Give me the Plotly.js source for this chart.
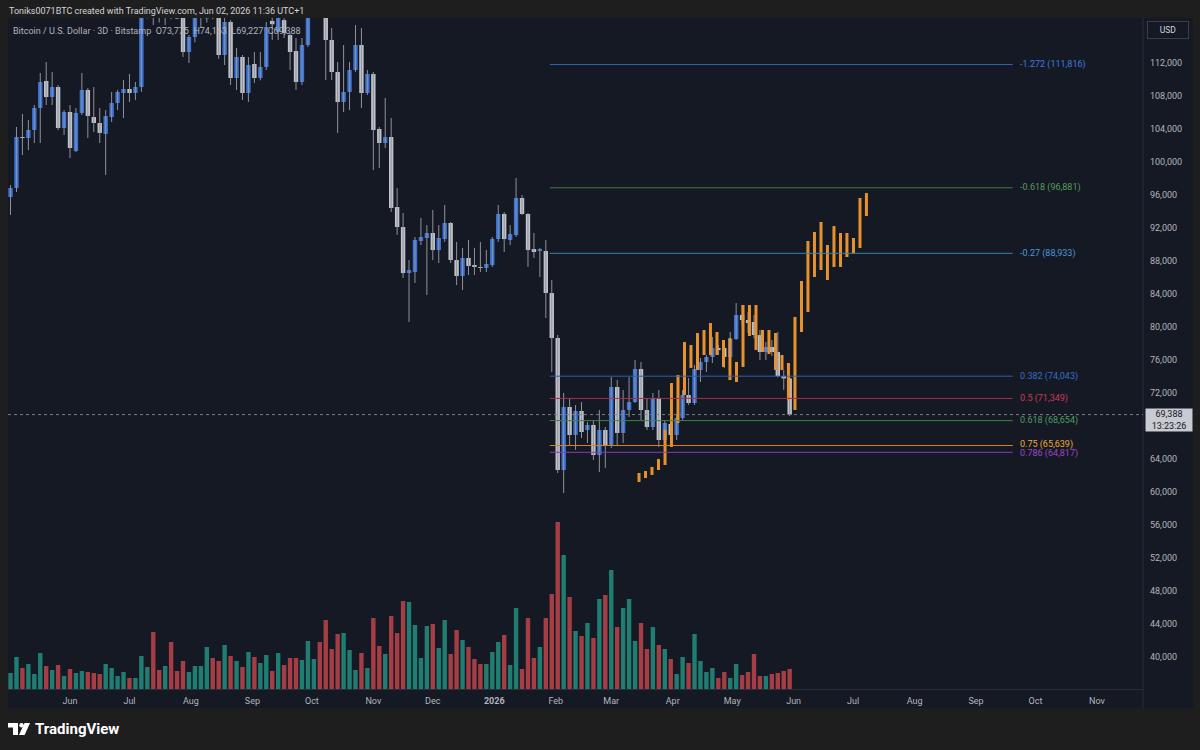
<!DOCTYPE html>
<html><head><meta charset="utf-8">
<script src="https://cdn.plot.ly/plotly-3.0.1.min.js"></script>
<style>html,body{margin:0;padding:0;background:#1e1e1e;}#chart{width:1200px;height:750px;}</style>
</head><body><div id="chart"></div>
<script>
// ---------- DATA ----------
const candleStart = '2025-05-02';   // first 3D candle
const candleStepDays = 3;
const candleOpen = [95760,96850,103030,102910,103880,106550,109820,107880,109090,104120,
106060,101330,105940,108730,105450,104730,103400,105450,107150,108360,
108850,108360,109090,117800,119800,117800,117500,118600,117700,118000,
113330,115150,118300,117400,118200,117500,112970,116970,110180,112730,
108360,111880,110180,111520,117100,115760,117200,115390,113450,109700,
114180,120000,123000,121000,114790,110910,107270,108490,111150,114180,
108360,110670,104000,102300,103030,94550,92120,86540,86660,90430,
90790,91400,89330,90670,92610,88120,86180,88370,87520,87280,
87160,87520,90670,93700,90550,91150,95640,93700,89450,89210,
89210,84120,78670,62670,70310,66910,69820,67520,68130,64490,
67520,65700,72730,67160,69940,70910,74910,69940,67880,71400,
66310,68250,66910,68970,71760,70790,74790,75760,76370,77460,
77460,76370,78550,81460,80850,80610,79030,76970,77580,76970,
74060,73770];
const candleHigh = [97200,104240,105820,105090,106910,110790,112120,110910,109330,106300,
106910,106550,110790,108970,109090,106550,106300,108490,108730,109940,
110670,109700,119000,123200,120500,119500,119700,119200,118600,118500,
115390,119300,124000,119000,118900,117800,117500,117200,113820,112970,
112730,113330,113330,116970,118000,118000,117800,115640,115030,115030,
123500,126000,124500,122000,116240,112120,114180,112120,116600,116240,
111150,110910,104240,107760,105330,96850,93820,88120,90910,93220,
92360,94180,92360,94790,92730,90310,89580,90550,89580,90310,
89330,90910,94790,93940,92360,98060,96000,93820,91400,89570,
90550,85700,79030,72000,71400,70550,70910,68490,68730,69940,
67880,73940,73580,72370,73940,76000,75760,71400,72000,72370,
68730,69090,69340,72370,73820,75400,76240,76610,78790,77820,
78180,79400,82910,82670,81820,81460,79640,78180,78420,79400,
74790,74163];
const candleLow = [93580,96370,100850,101450,102300,102300,106910,106910,103880,103270,
100490,101210,105700,102910,103640,102300,98430,104850,106300,105330,
107270,107510,108490,117400,116600,116900,116600,117300,117300,112730,
112000,114500,116240,116900,117300,112500,111760,109330,108730,107510,
107270,109580,109900,111150,114790,114790,115030,111150,108730,109330,
113940,119500,118000,109940,109940,103520,106060,106300,110910,106550,
108120,99030,99270,101700,93940,91160,85940,80610,85340,89940,
83880,88120,87760,90310,87760,85090,84490,86310,86310,86670,
86670,87280,90310,89090,89940,90910,93580,87280,88370,86060,
81090,74550,62310,59880,65700,65100,66550,65940,63880,62430,
62920,65340,65700,65940,69090,70790,68730,67520,67520,65460,
65100,65700,66310,68730,70550,70550,73340,74550,75640,76610,
75040,76240,78430,80240,79270,78670,76000,76000,76500,73900,
72370,69227];
const candleClose = [96850,103030,102910,103880,106550,109700,107880,109090,104120,106060,
101700,105940,108730,105580,104730,103520,105580,107150,108490,108850,
108360,109090,117800,119800,117800,117500,118600,117700,117400,113330,
115150,118300,118800,118200,117500,112970,116970,110180,112730,108360,
111760,110180,111520,116360,116700,117450,115640,113330,109700,114180,
120000,123000,121500,114790,110910,107270,108490,111150,114180,108360,
110670,103880,102300,103030,94430,92120,86540,86910,90550,90910,
91400,89330,90790,92610,88120,86180,88370,87400,87280,87160,
87640,90670,93700,90670,91270,95640,93700,89330,89090,89450,
84120,78670,62670,70310,66910,69820,67280,68130,64490,67520,
65700,72730,67160,69940,70910,74910,69940,67880,71400,66310,
68370,66910,68970,71760,70790,74910,75760,76370,77460,77220,
76370,78550,81460,80850,80490,79030,76970,77580,76970,74060,
73770,69388];
const volume = [16,32,21,25,15,36,23,19,24,13,20,16,18,17,16,15,25,21,13,17,
11,11,33,22,57,19,23,47,18,28,17,23,23,42,31,28,44,33,28,22,
37,32,26,34,18,36,24,31,31,29,48,30,47,69,40,55,56,39,19,36,
21,71,43,35,73,56,88,87,64,31,63,65,41,69,35,59,49,42,30,25,
25,37,47,54,24,81,20,71,31,42,71,95,167,134,92,58,53,66,51,90,
94,119,62,81,90,48,66,40,62,44,40,30,15,32,26,55,28,17,21,11,
17,11,25,14,17,35,13,13,15,16,18,20];

// orange projected bars pattern (high / low)
const projDates = ['2026-03-15 00:00','2026-03-18 07:00','2026-03-21 13:00','2026-03-24 20:00',
'2026-03-28 03:00','2026-03-31 09:00','2026-04-03 16:00','2026-04-06 23:00','2026-04-10 05:00',
'2026-04-13 12:00','2026-04-16 19:00','2026-04-20 01:00','2026-04-23 08:00','2026-04-26 15:00',
'2026-04-29 21:00','2026-05-03 04:00','2026-05-06 11:00','2026-05-09 17:00','2026-05-13 00:00',
'2026-05-16 07:00','2026-05-19 13:00','2026-05-22 20:00','2026-05-26 03:00','2026-05-29 09:00',
'2026-06-01 16:00','2026-06-04 23:00','2026-06-08 05:00','2026-06-11 12:00','2026-06-14 19:00',
'2026-06-18 01:00','2026-06-21 08:00','2026-06-24 15:00','2026-06-27 21:00','2026-07-01 04:00',
'2026-07-04 11:00','2026-07-07 17:00'];
const projHigh = [62310,62550,63040,64000,67520,73210,74190,78180,77820,79270,79640,80490,
79400,78430,78670,75760,82670,82670,82670,79640,79640,79270,76610,75640,81220,85580,
90430,91520,92730,89940,92240,91400,91400,90790,95640,96240];
const projLow = [61220,61700,62070,62670,63280,65460,68370,71760,75040,74790,76610,76610,
76610,75160,73580,73340,75160,78910,77220,76970,76730,74790,74790,71160,69940,79400,
81820,86060,86910,85700,87280,87280,88490,88970,89580,93460];

// Fibonacci levels
const fibLevels = ['-1.272','-0.618','-0.27','0.382','0.5','0.618','0.75','0.786'];
const fibPrices = [111816,96881,88933,74043,71349,68654,65639,64817];
const fibStart = '2026-01-29';
const fibEnd = '2026-09-19 12:00';
const fibLabelAt = '2026-09-22';

const lastPrice = 69388;
const lastTimer = '13:23:26';
const legendText = 'Bitcoin / U.S. Dollar · 3D · Bitstamp  O73,775  H74,163  L69,227  C69,388';
const headerText = 'Toniks0071BTC created with TradingView.com, Jun 02, 2026 11:36 UTC+1';

const monthTicks = ['2025-06-01','2025-07-01','2025-08-01','2025-09-01','2025-10-01','2025-11-01',
'2025-12-01','2026-01-01','2026-02-01','2026-03-01','2026-04-01','2026-05-01','2026-06-01',
'2026-07-01','2026-08-01','2026-09-01','2026-10-01','2026-11-01'];
const monthLabels = ['Jun','Jul','Aug','Sep','Oct','Nov','Dec','<b>2026</b>','Feb','Mar','Apr','May',
'Jun','Jul','Aug','Sep','Oct','Nov'];
const priceTicks = [40000,44000,48000,52000,56000,60000,64000,72000,76000,80000,84000,88000,
92000,96000,100000,104000,108000,112000];

// ---------- STYLE ----------
const fibLineColors = ['#2f64b8','#3f7a45','#3a84b0','#2f5fae','#a8304a','#3f8050','#d9841c','#8a3bb5'];
const fibTextColors = ['#3b7be0','#5a9a5e','#4a98d8','#3b6cc4','#cf3a57','#4f9c62','#f2a935','#9a47c8'];
const fibLabelShift = [0,0,0,0,0,0,1.5,-1.5];
const UP = '#3a74d9', DOWN = '#bfc2c9', WICK = '#8f929b';
const VUP = '#1f7d72', VDOWN = '#a53d44';
const ORANGE = '#e8922e';
const TXT = '#b2b5be';
const FONT = 'Roboto, "Open Sans", sans-serif';

// layout pixel geometry
const W = 1200, H = 750, L = 8, R = 1143, T = 18, B = 689;
const px = x => (x - L) / (R - L);
const py = y => (B - y) / (B - T);

function addDays(iso, d) {
  const p = iso.split('-').map(Number);
  const t = Date.UTC(p[0], p[1]-1, p[2]) + d * 864e5;
  return new Date(t).toISOString().slice(0, 10);
}
const dates = candleOpen.map((_, i) => addDays(candleStart, i * candleStepDays));
const isUp = candleOpen.map((o, i) => candleClose[i] >= o);
const bodyBase = candleOpen.map((o, i) => Math.min(o, candleClose[i]));
const bodyLen = candleOpen.map((o, i) => Math.max(Math.abs(candleClose[i] - o), 110));
const barW = candleStepDays * 864e5 * 0.74;

const traces = [
  { type: 'bar', x: dates, y: volume, yaxis: 'y2', width: barW,
    marker: { color: isUp.map(u => u ? VUP : VDOWN), line: { width: 0 } }, hoverinfo: 'skip' },
  { type: 'ohlc', x: dates, open: candleOpen, high: candleHigh, low: candleLow, close: candleClose,
    tickwidth: 0, increasing: { line: { color: WICK, width: 1 } }, decreasing: { line: { color: WICK, width: 1 } },
    hoverinfo: 'skip' },
  { type: 'bar', x: dates, base: bodyBase, y: bodyLen, width: barW,
    marker: { color: isUp.map(u => u ? UP : DOWN), line: { width: 0 } }, hoverinfo: 'skip' },
  { type: 'ohlc', x: projDates, open: projLow, high: projHigh, low: projLow, close: projHigh,
    tickwidth: 0, increasing: { line: { color: ORANGE, width: 3 } }, decreasing: { line: { color: ORANGE, width: 3 } },
    hoverinfo: 'skip' }
];

const shapes = [
  { type: 'rect', layer: 'below', xref: 'paper', yref: 'paper', x0: px(8), x1: px(1193), y0: py(708), y1: py(18),
    fillcolor: '#151924', line: { width: 0 } },
  { type: 'line', xref: 'paper', yref: 'paper', x0: 1, x1: 1, y0: py(708), y1: py(18), line: { color: '#2a2e39', width: 1 } },
  { type: 'line', xref: 'paper', yref: 'y', x0: 0, x1: 1, y0: lastPrice, y1: lastPrice,
    line: { color: '#787b86', width: 1, dash: 'dot' } },
  // TradingView logo
  { type: 'path', xref: 'paper', yref: 'paper', fillcolor: '#ffffff', line: { width: 0 },
    path: `M${px(8)},${py(723)} L${px(18)},${py(723)} L${px(18)},${py(735)} L${px(13)},${py(735)} L${px(13)},${py(727.5)} L${px(8)},${py(727.5)} Z` },
  { type: 'circle', xref: 'paper', yref: 'paper', fillcolor: '#ffffff', line: { width: 0 },
    x0: px(19.3), x1: px(23.7), y0: py(727.5), y1: py(723.1) },
  { type: 'path', xref: 'paper', yref: 'paper', fillcolor: '#ffffff', line: { width: 0 },
    path: `M${px(24.5)},${py(723)} L${px(30)},${py(723)} L${px(24.6)},${py(735)} L${px(19)},${py(735)} Z` }
];
fibPrices.forEach((p, i) => shapes.push({ type: 'line', xref: 'x', yref: 'y', x0: fibStart, x1: fibEnd,
  y0: p, y1: p, line: { color: fibLineColors[i], width: 1 } }));

const annotations = [
  { xref: 'paper', yref: 'paper', x: px(7), y: py(11), xanchor: 'left', yanchor: 'middle', showarrow: false,
    text: headerText, font: { family: FONT, size: 9, color: '#d1d4dc' } },
  { xref: 'paper', yref: 'paper', x: px(11), y: py(31), xanchor: 'left', yanchor: 'middle', showarrow: false,
    text: legendText, font: { family: FONT, size: 9, color: TXT } },
  { xref: 'paper', yref: 'paper', x: px(1168), y: py(30), xanchor: 'center', yanchor: 'middle', showarrow: false,
    text: 'USD', font: { family: FONT, size: 8.5, color: '#d1d4dc' }, bgcolor: '#151924',
    bordercolor: '#3a3e49', borderwidth: 1, borderpad: 3, width: 34 },
  { xref: 'paper', yref: 'y', x: px(1145), y: lastPrice, xanchor: 'left', yanchor: 'middle', yshift: -5,
    showarrow: false, text: '69,388<br>' + lastTimer, align: 'center',
    font: { family: FONT, size: 9, color: '#131722' }, bgcolor: '#c8cbd2', width: 44, height: 20, borderpad: 1 },
  { xref: 'paper', yref: 'paper', x: px(33), y: py(729), xanchor: 'left', yanchor: 'middle', showarrow: false,
    text: '<b>TradingView</b>', font: { family: FONT, size: 15, color: '#ffffff' } }
];
fibPrices.forEach((p, i) => annotations.push({ xref: 'x', yref: 'y', x: fibLabelAt, y: p, xanchor: 'left',
  yanchor: 'middle', yshift: fibLabelShift[i], showarrow: false, text: fibLevels[i] + ' (' + p.toLocaleString('en-US') + ')',
  font: { family: FONT, size: 9, color: fibTextColors[i] } }));

const layout = {
  width: W, height: H,
  margin: { l: L, r: W - R, t: T, b: H - B, pad: 0 },
  paper_bgcolor: '#1e1e1e', plot_bgcolor: '#151924',
  showlegend: false, barmode: 'overlay', dragmode: false,
  xaxis: { type: 'date', range: ['2025-04-30 17:30', '2026-11-24 05:00'], rangeslider: { visible: false },
    tickvals: monthTicks, ticktext: monthLabels, showgrid: false, zeroline: false, automargin: false,
    showline: true, linecolor: '#2a2e39', linewidth: 1, ticks: '', ticklabelstandoff: 3,
    tickfont: { family: FONT, size: 9, color: TXT }, fixedrange: true },
  yaxis: { range: [36129, 117454], side: 'right', tickvals: priceTicks, tickformat: ',d',
    showgrid: false, zeroline: false, automargin: false, ticks: '', ticklabelstandoff: 6,
    tickfont: { family: FONT, size: 9, color: TXT }, fixedrange: true },
  yaxis2: { overlaying: 'y', range: [0, B - T], visible: false, fixedrange: true },
  shapes, annotations
};

Plotly.newPlot('chart', traces, layout, { displayModeBar: false, staticPlot: true });
</script></body></html>
